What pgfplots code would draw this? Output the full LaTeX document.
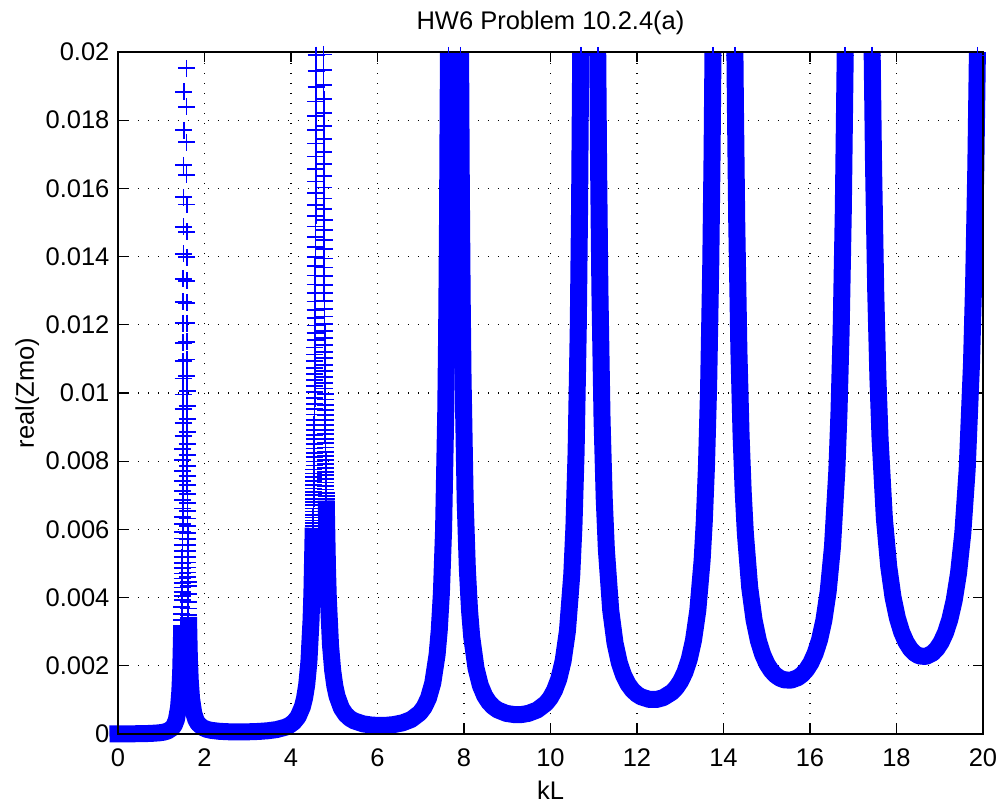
\documentclass[border=0pt]{standalone}
\usepackage{pgfplots}
\pgfplotsset{compat=1.18}
\usepackage{fontspec}
\setmainfont{Liberation Sans}
\newcommand{\lbl}{\fontsize{12.75}{15}\selectfont}
\begin{document}
\begin{tikzpicture}
\path[use as bounding box] (-59pt,-38pt) rectangle (439.5pt,367pt);
\begin{axis}[
  at={(0pt,0pt)}, anchor=south west,
  scale only axis, width=432.5pt, height=341pt,
  xmin=0, xmax=20, ymin=0, ymax=0.02,
  clip=false,
  xtick={0,2,4,6,8,10,12,14,16,18,20},
  xticklabels={0,2,4,6,8,10,12,14,16,18,20},
  ytick={0,0.002,0.004,0.006,0.008,0.010,0.012,0.014,0.016,0.018,0.020},
  yticklabels={0,0.002,0.004,0.006,0.008,0.01,0.012,0.014,0.016,0.018,0.02},
  scaled ticks=false,
  tick align=inside, tick pos=both, major tick length=5pt,
  tick style={black, line width=0.6pt},
  grid=major,
  major grid style={black, line width=0.65pt, dash pattern=on 0.65pt off 4.35pt},
  axis line style={black, line width=0.9pt},
  tick label style={font=\lbl, black},
  xticklabel style={anchor=base, yshift=-16.3pt},
  yticklabel style={xshift=-0.75pt},
  title={HW6 Problem 10.2.4(a)},
  title style={font=\lbl, at={(axis description cs:0.5,1.0147)}, anchor=base, inner sep=0pt},
  xlabel={kL},
  xlabel style={font=\lbl, at={(axis description cs:0.5,-0.0953)}, anchor=base, inner sep=0pt},
  ylabel={real(Zmo)},
  ylabel style={font=\lbl, at={(axis description cs:-0.0971,0.5)}, anchor=base, inner sep=0pt},
]
% solid band (dense + markers in the original), segment by segment
\addplot[blue, line width=8.5pt, line join=round, line cap=rect] coordinates {
(0,0.000005) (0.15,0.0000053) (0.35,0.0000066) (0.55,0.0000097) (0.75,0.0000166) (0.95,0.0000336) (1.05,0.000052) (1.15,0.000088) (1.25,0.000171) (1.30,0.000257) (1.35,0.00042) (1.40,0.00078) (1.43,0.001254) (1.45,0.00184) (1.47,0.00293)};
\addplot[blue, line width=8.5pt, line join=round, line cap=butt] coordinates {
(1.63,0.00343) (1.65,0.00224) (1.67,0.001586) (1.70,0.001047) (1.75,0.00062) (1.80,0.000418) (1.85,0.000307) (1.95,0.000193) (2.05,0.000138) (2.15,0.000108) (2.35,0.000078) (2.55,0.000066) (2.75,0.000062) (2.95,0.000063) (3.107,0.000068) (3.264,0.000076) (3.464,0.000095) (3.664,0.000129) (3.864,0.000196) (3.964,0.000254) (4.064,0.000347) (4.164,0.000504) (4.264,0.000799) (4.314,0.001054) (4.364,0.00145) (4.414,0.002113) (4.464,0.00335) (4.484,0.00416) (4.514,0.006046)};
\addplot[blue, line width=8.5pt, line join=round, line cap=butt] coordinates {
(4.814,0.006847) (4.844,0.00483) (4.864,0.003954) (4.914,0.002601) (4.964,0.00186) (5.014,0.001408) (5.064,0.001113) (5.164,0.000763) (5.264,0.000572) (5.364,0.000456) (5.464,0.000382) (5.664,0.000298) (5.864,0.000261) (6.064,0.00025) (6.221,0.000257) (6.378,0.000276) (6.578,0.000327) (6.778,0.000424) (6.978,0.000616) (7.078,0.000785) (7.178,0.00105) (7.278,0.001495) (7.378,0.002327) (7.428,0.003041) (7.478,0.004148) (7.528,0.005996) (7.578,0.00942) (7.598,0.01166) (7.618,0.0148) (7.638,0.01939) (7.640,0.02)};
\addplot[blue, line width=8.5pt, line join=round, line cap=butt] coordinates {
(7.921,0.02) (7.938,0.01605) (7.958,0.01277) (7.978,0.01043) (8.028,0.006806) (8.078,0.00483) (8.128,0.003633) (8.178,0.002851) (8.278,0.001928) (8.378,0.001424) (8.478,0.001121) (8.578,0.000926) (8.678,0.000796) (8.778,0.000706) (8.978,0.000604) (9.178,0.000567) (9.335,0.000571) (9.492,0.000606) (9.692,0.000703) (9.892,0.000895) (9.992,0.001052) (10.092,0.001279) (10.192,0.001615) (10.292,0.002142) (10.392,0.003027) (10.492,0.004673) (10.542,0.006082) (10.592,0.008264) (10.642,0.0119) (10.672,0.01538) (10.699,0.02)};
\addplot[blue, line width=8.5pt, line join=round, line cap=butt] coordinates {
(11.092,0.02) (11.112,0.01667) (11.142,0.01304) (11.192,0.009221) (11.242,0.006912) (11.292,0.005407) (11.392,0.003633) (11.492,0.002667) (11.592,0.002086) (11.692,0.001713) (11.792,0.001463) (11.892,0.001291) (11.992,0.001172) (12.092,0.001091) (12.292,0.001012) (12.449,0.001012) (12.606,0.001065) (12.806,0.001223) (12.906,0.001356) (13.006,0.001542) (13.106,0.001805) (13.206,0.002182) (13.306,0.002745) (13.406,0.003623) (13.506,0.005097) (13.556,0.006236) (13.606,0.007836) (13.656,0.010179) (13.706,0.0138) (13.736,0.017014) (13.757,0.02)};
\addplot[blue, line width=8.5pt, line join=round, line cap=butt] coordinates {
(14.264,0.02) (14.276,0.018372) (14.306,0.01503) (14.356,0.011244) (14.406,0.008781) (14.456,0.007088) (14.506,0.005876) (14.606,0.004298) (14.706,0.00335) (14.806,0.002741) (14.906,0.002332) (15.006,0.002051) (15.106,0.001855) (15.206,0.001722) (15.306,0.001635) (15.406,0.001587) (15.563,0.001579) (15.72,0.001652) (15.82,0.001747) (15.92,0.001887) (16.02,0.002086) (16.12,0.002366) (16.22,0.00276) (16.32,0.003328) (16.42,0.004174) (16.52,0.005494) (16.62,0.007707) (16.67,0.009417) (16.72,0.011817) (16.77,0.015329) (16.815,0.02)};
\addplot[blue, line width=8.5pt, line join=round, line cap=butt] coordinates {
(17.437,0.02) (17.47,0.016632) (17.52,0.012972) (17.57,0.010459) (17.62,0.00866) (17.72,0.006319) (17.82,0.004914) (17.92,0.00401) (18.02,0.003405) (18.12,0.002987) (18.22,0.002696) (18.32,0.002497) (18.42,0.002366) (18.52,0.002291) (18.677,0.002272) (18.834,0.00237) (18.934,0.0025) (19.034,0.002695) (19.134,0.002973) (19.234,0.003365) (19.334,0.003918) (19.434,0.004715) (19.534,0.005902) (19.634,0.007754) (19.734,0.010857) (19.784,0.013254) (19.834,0.016615) (19.871,0.02)};
% separate + markers near the tops of the first two peaks
\addplot[blue, only marks, mark=+, mark size=4.25pt, mark options={line width=0.9pt}] coordinates {
(1.518,0.018828) (1.517,0.017704) (1.516,0.016678) (1.515,0.015739) (1.514,0.014876) (1.513,0.014083) (1.512,0.013352) (1.511,0.012676) (1.510,0.012050) (1.509,0.011469) (1.508,0.010930) (1.507,0.010427) (1.506,0.009959) (1.505,0.009521) (1.504,0.009111) (1.503,0.008728) (1.502,0.008368) (1.501,0.008030) (1.500,0.007712) (1.499,0.007413) (1.498,0.007130) (1.497,0.006864) (1.496,0.006612) (1.495,0.006374) (1.494,0.006148) (1.493,0.005934) (1.492,0.005731) (1.491,0.005539) (1.490,0.005356) (1.489,0.005181) (1.488,0.005016) (1.487,0.004858) (1.486,0.004707) (1.485,0.004563) (1.484,0.004426) (1.483,0.004295) (1.482,0.004169) (1.481,0.004050) (1.480,0.003935) (1.478,0.003719) (1.476,0.003521) (1.474,0.003338) (1.472,0.003169)
(1.583,0.019522) (1.584,0.018391) (1.585,0.017355) (1.586,0.016404) (1.587,0.015530) (1.588,0.014723) (1.589,0.013978) (1.590,0.013288) (1.591,0.012647) (1.592,0.012052) (1.593,0.011498) (1.594,0.010981) (1.595,0.010499) (1.596,0.010047) (1.597,0.009624) (1.598,0.009228) (1.599,0.008855) (1.600,0.008504) (1.601,0.008174) (1.602,0.007862) (1.603,0.007569) (1.604,0.007291) (1.605,0.007028) (1.606,0.006779) (1.607,0.006544) (1.608,0.006320) (1.609,0.006107) (1.610,0.005906) (1.611,0.005713) (1.612,0.005531) (1.613,0.005356) (1.614,0.005190) (1.615,0.005032) (1.616,0.004881) (1.617,0.004736) (1.618,0.004598) (1.619,0.004466) (1.620,0.004339) (1.622,0.004101) (1.624,0.003882) (1.626,0.003681) (1.628,0.003494)
(4.581,0.019910) (4.580,0.019438) (4.579,0.018984) (4.578,0.018546) (4.577,0.018122) (4.576,0.017711) (4.575,0.017316) (4.574,0.016934) (4.573,0.016564) (4.572,0.016205) (4.571,0.015859) (4.570,0.015522) (4.569,0.015197) (4.568,0.014883) (4.567,0.014577) (4.566,0.014281) (4.565,0.013995) (4.564,0.013716) (4.563,0.013446) (4.562,0.013184) (4.561,0.012929) (4.560,0.012682) (4.559,0.012440) (4.558,0.012207) (4.557,0.011980) (4.556,0.011759) (4.555,0.011545) (4.554,0.011335) (4.553,0.011132) (4.552,0.010934) (4.551,0.010741) (4.550,0.010555) (4.549,0.010371) (4.548,0.010194) (4.547,0.010020) (4.546,0.009851) (4.545,0.009686) (4.544,0.009524) (4.543,0.009368) (4.542,0.009216) (4.541,0.009066) (4.540,0.008921) (4.539,0.008778) (4.538,0.008640) (4.537,0.008504) (4.536,0.008372) (4.535,0.008242) (4.534,0.008116) (4.533,0.007992) (4.532,0.007872) (4.531,0.007754) (4.530,0.007638) (4.529,0.007526) (4.528,0.007416) (4.527,0.007308) (4.526,0.007202) (4.525,0.007099) (4.524,0.006998) (4.523,0.006899) (4.522,0.006802) (4.521,0.006707) (4.520,0.006615) (4.519,0.006523) (4.518,0.006434) (4.517,0.006348) (4.516,0.006261) (4.515,0.006178) (4.514,0.006095)
(4.751,0.019927) (4.752,0.019475) (4.753,0.019041) (4.754,0.018620) (4.755,0.018213) (4.756,0.017819) (4.757,0.017438) (4.758,0.017068) (4.759,0.016711) (4.760,0.016365) (4.761,0.016029) (4.762,0.015703) (4.763,0.015388) (4.764,0.015082) (4.765,0.014785) (4.766,0.014497) (4.767,0.014216) (4.768,0.013945) (4.769,0.013679) (4.770,0.013423) (4.771,0.013173) (4.772,0.012930) (4.773,0.012694) (4.774,0.012464) (4.775,0.012241) (4.776,0.012023) (4.777,0.011811) (4.778,0.011606) (4.779,0.011404) (4.780,0.011209) (4.781,0.011017) (4.782,0.010832) (4.783,0.010651) (4.784,0.010473) (4.785,0.010301) (4.786,0.010134) (4.787,0.009969) (4.788,0.009809) (4.789,0.009653) (4.790,0.009500) (4.791,0.009351) (4.792,0.009206) (4.793,0.009063) (4.794,0.008924) (4.795,0.008788) (4.796,0.008656) (4.797,0.008526) (4.798,0.008399) (4.799,0.008276) (4.800,0.008155) (4.801,0.008036) (4.802,0.007920) (4.803,0.007806) (4.804,0.007695) (4.805,0.007586) (4.806,0.007479) (4.807,0.007375) (4.808,0.007274) (4.809,0.007173) (4.810,0.007075) (4.811,0.006980) (4.812,0.006885) (4.813,0.006793) (4.814,0.006702)
(7.641,0.0199) (7.920,0.0199) (10.700,0.0199) (11.091,0.0199) (13.758,0.0199) (14.263,0.0199) (16.816,0.0199) (17.436,0.0199) (19.872,0.0199)};
\draw[black, line width=0.9pt] (rel axis cs:0,0) rectangle (rel axis cs:1,1);
\end{axis}
\end{tikzpicture}
\end{document}
